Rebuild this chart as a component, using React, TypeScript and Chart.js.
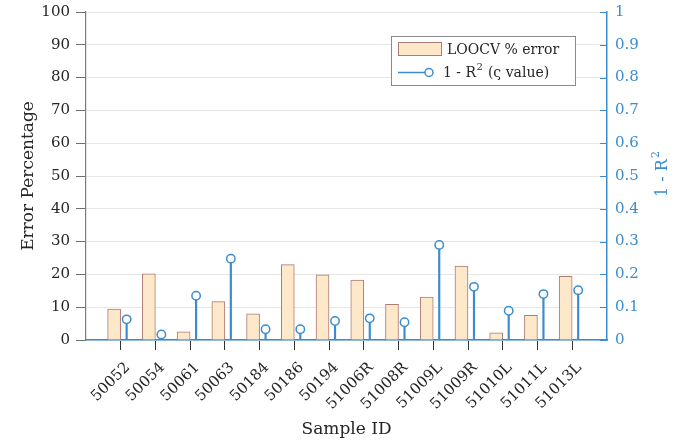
import React, { useEffect, useRef } from 'react';
import { Chart, registerables } from 'chart.js';

Chart.register(...registerables);

const sampleIds = ['50052', '50054', '50061', '50063', '50184', '50186', '50194', '51006R', '51008R', '51009L', '51009R', '51010L', '51011L', '51013L'];
const loocvError = [9.4, 20.2, 2.5, 11.7, 8.0, 23.0, 19.9, 18.3, 10.9, 13.1, 22.5, 2.2, 7.5, 19.4];
const oneMinusR2 = [0.063, 0.017, 0.135, 0.248, 0.033, 0.033, 0.058, 0.066, 0.054, 0.29, 0.162, 0.089, 0.14, 0.152];

const FONT = '"DejaVu Serif", "Liberation Serif", serif';
const BLUE = '#3a8ccf';
const BAR_FILL = '#fde9ca';
const BAR_BORDER = '#ad7a74';
const TEXT = '#262626';

const legendPlugin = {
  id: 'customLegend',
  afterDraw(chart: any) {
    const ctx = chart.ctx as CanvasRenderingContext2D;
    ctx.save();
    // inward ticks on right axis
    const y1 = chart.scales.y1;
    const area = chart.chartArea;
    ctx.strokeStyle = BLUE;
    ctx.lineWidth = 1;
    y1.ticks.forEach((t: any) => {
      const py = Math.round(y1.getPixelForValue(t.value)) + 0.5;
      ctx.beginPath();
      ctx.moveTo(area.right, py);
      ctx.lineTo(area.right - 7, py);
      ctx.stroke();
    });

    // right axis title (reads bottom-to-top)
    ctx.save();
    ctx.translate(663, 174);
    ctx.rotate(-Math.PI / 2);
    ctx.fillStyle = BLUE;
    ctx.textBaseline = 'middle';
    ctx.textAlign = 'left';
    ctx.font = '16px ' + FONT;
    const a = '1 - R';
    const wa = ctx.measureText(a).width;
    ctx.font = '11px ' + FONT;
    const wb = ctx.measureText('2').width;
    const start = -(wa + wb + 1) / 2;
    ctx.font = '16px ' + FONT;
    ctx.fillText(a, start, 0);
    ctx.font = '11px ' + FONT;
    ctx.fillText('2', start + wa + 1, -7);
    ctx.restore();

    // legend
    const x = 391, y = 36, w = 184, h = 49;
    ctx.fillStyle = '#ffffff';
    ctx.fillRect(x, y, w, h);
    ctx.strokeStyle = '#8a8a8a';
    ctx.lineWidth = 1;
    ctx.strokeRect(x + 0.5, y + 0.5, w, h);
    ctx.fillStyle = BAR_FILL;
    ctx.fillRect(398, 42, 44, 14);
    ctx.strokeStyle = BAR_BORDER;
    ctx.strokeRect(398.5, 42.5, 43, 13);
    ctx.fillStyle = TEXT;
    ctx.textBaseline = 'middle';
    ctx.textAlign = 'left';
    ctx.font = '14px ' + FONT;
    ctx.fillText('LOOCV % error', 447, 50);
    ctx.strokeStyle = BLUE;
    ctx.lineWidth = 1.5;
    ctx.beginPath();
    ctx.moveTo(398, 72.5);
    ctx.lineTo(425, 72.5);
    ctx.stroke();
    ctx.beginPath();
    ctx.arc(429, 72.5, 4, 0, Math.PI * 2);
    ctx.fillStyle = '#ffffff';
    ctx.fill();
    ctx.stroke();
    ctx.fillStyle = TEXT;
    ctx.font = '14px ' + FONT;
    let tx = 443;
    const p1 = '1 - R';
    ctx.fillText(p1, tx, 73);
    tx += ctx.measureText(p1).width;
    ctx.font = '10px ' + FONT;
    ctx.fillText('2', tx + 0.5, 67);
    tx += ctx.measureText('2').width + 1;
    ctx.font = '14px ' + FONT;
    ctx.fillText(' (ς value)', tx, 73);
    ctx.restore();
  },
};

export default function App() {
  const canvasRef = useRef<HTMLCanvasElement | null>(null);

  useEffect(() => {
    if (!canvasRef.current) return;
    const barData = loocvError.map((v, i) => ({ x: i + 1 - 0.19, y: v }));
    const stemData = oneMinusR2.map((v, i) => ({ x: i + 1 + 0.17, y: v }));

    const chart = new Chart(canvasRef.current, {
      type: 'bar',
      data: {
        datasets: [
          {
            type: 'bar',
            label: 'LOOCV % error',
            data: barData as any,
            backgroundColor: BAR_FILL,
            borderColor: BAR_BORDER,
            borderWidth: 1,
            barThickness: 13,
            grouped: false,
            xAxisID: 'x',
            yAxisID: 'y',
            order: 2,
          } as any,
          {
            type: 'bar',
            label: 'stem',
            data: stemData as any,
            backgroundColor: BLUE,
            borderWidth: 0,
            barThickness: 1.5,
            grouped: false,
            xAxisID: 'x',
            yAxisID: 'y1',
            order: 1,
          } as any,
          {
            type: 'line',
            label: '1 - R² (ς value)',
            data: stemData as any,
            showLine: false,
            pointStyle: 'circle',
            pointRadius: 4.2,
            pointBorderWidth: 1.5,
            pointBorderColor: BLUE,
            pointBackgroundColor: '#ffffff',
            xAxisID: 'x',
            yAxisID: 'y1',
            order: 0,
          } as any,
        ],
      },
      options: {
        animation: false,
        responsive: false,
        layout: { padding: { top: 12, left: 0, right: 0, bottom: 0 } },
        plugins: {
          legend: { display: false },
          tooltip: { enabled: false },
        },
        scales: {
          x: {
            type: 'linear',
            position: 'bottom',
            offset: false,
            min: 0,
            max: 15,
            afterBuildTicks: (axis: any) => {
              axis.ticks = sampleIds.map((_, i) => ({ value: i + 1 }));
            },
            afterFit: (axis: any) => {
              axis.height = 107;
              axis.paddingLeft = 0;
              axis.paddingRight = 0;
            },
            ticks: {
              autoSkip: false,
              minRotation: 45,
              maxRotation: 45,
              color: TEXT,
              font: { family: FONT, size: 15 },
              padding: 9,
              labelOffset: 7,
              callback: (v: any) => sampleIds[Math.round(Number(v)) - 1] ?? '',
            },
            grid: {
              offset: false,
              drawOnChartArea: false,
              drawTicks: true,
              tickLength: 10,
              tickColor: '#333333',
              color: '#333333',
            },
            border: { display: true, color: BLUE, width: 1.5 },
            title: {
              display: true,
              text: 'Sample ID',
              color: TEXT,
              font: { family: FONT, size: 17 },
              padding: { top: 0, bottom: 7 },
            },
          },
          y: {
            type: 'linear',
            position: 'left',
            min: 0,
            max: 100,
            afterFit: (axis: any) => {
              axis.width = 86;
              axis.paddingTop = 0;
              axis.paddingBottom = 0;
            },
            ticks: {
              stepSize: 10,
              color: TEXT,
              font: { family: FONT, size: 15 },
              padding: 6,
            },
            grid: {
              color: '#e6e6e6',
              tickColor: '#6e6e6e',
              tickLength: 10,
              drawTicks: true,
            },
            border: { display: true, color: '#7a7a7a', width: 1.2 },
            title: {
              display: true,
              text: 'Error Percentage',
              color: TEXT,
              font: { family: FONT, size: 17 },
              padding: { top: 18, bottom: 0 },
            },
          },
          y1: {
            type: 'linear',
            position: 'right',
            min: 0,
            max: 1,
            afterFit: (axis: any) => {
              axis.width = 93;
              axis.paddingTop = 0;
              axis.paddingBottom = 0;
            },
            ticks: {
              stepSize: 0.1,
              color: BLUE,
              font: { family: FONT, size: 15 },
              padding: 8,
              callback: (v: any) => String(Number(Number(v).toFixed(1))),
            },
            grid: {
              drawOnChartArea: false,
              drawTicks: false,
            },
            border: { display: true, color: BLUE, width: 1.5 },
            title: { display: false },
          },
        },
      } as any,
      plugins: [legendPlugin],
    });

    return () => chart.destroy();
  }, []);

  return (
    <div style={{ position: 'absolute', left: 0, top: 0, width: 700, height: 447, background: '#ffffff' }}>
      <canvas ref={canvasRef} width={700} height={447} style={{ display: 'block' }} />
    </div>
  );
}
